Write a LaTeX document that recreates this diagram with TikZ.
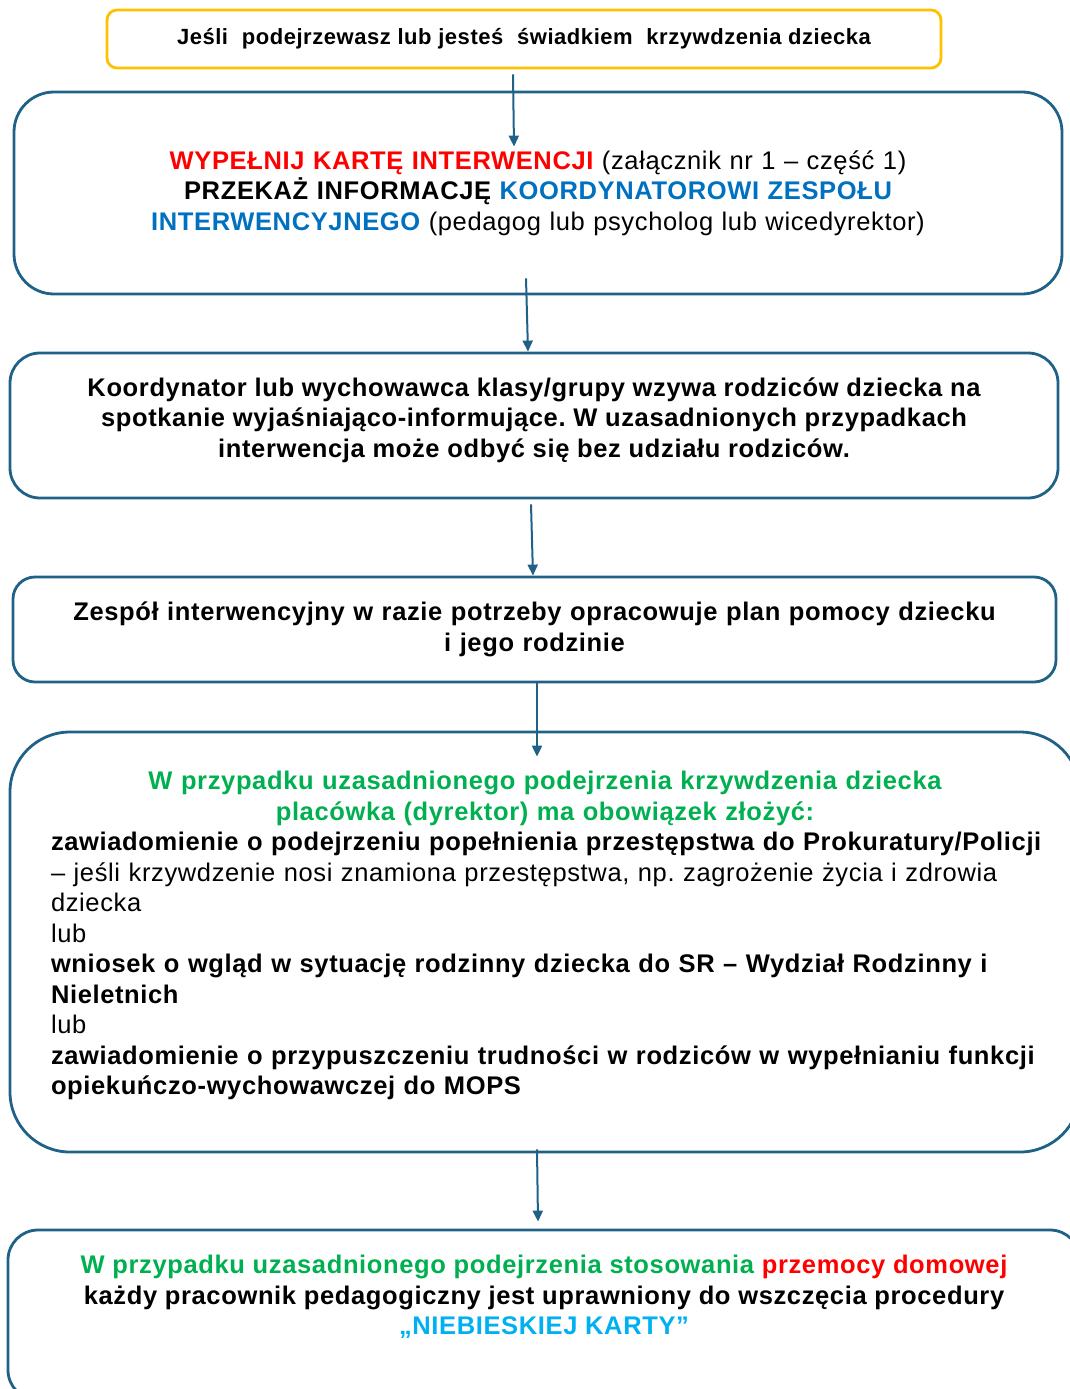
\documentclass[tikz,border=0pt]{standalone}
\usepackage{fontspec}
\setmainfont{Liberation Sans}[LetterSpace=2.5]
\usetikzlibrary{arrows.meta}

\definecolor{frameblue}{RGB}{31,97,135}
\definecolor{frameyellow}{RGB}{255,192,0}
\definecolor{kartared}{RGB}{255,0,0}
\definecolor{zespolblue}{RGB}{0,112,192}
\definecolor{podejrzgreen}{RGB}{0,176,80}
\definecolor{niebieska}{RGB}{0,176,240}
\frenchspacing

\begin{document}
\begin{tikzpicture}[x=1pt, y=-1pt,
    stepbox/.style={draw=frameblue, line width=2.8pt, inner sep=0pt,
      font=\fontsize{25.5}{30.5}\selectfont\bfseries},
    steptext/.style={inner sep=0pt, font=\fontsize{25.5}{30.5}\selectfont\bfseries},
    arr/.style={draw=frameblue, line width=2pt,
      -{Triangle[width=10pt, length=11pt]}}]
  \useasboundingbox (0, 0) rectangle (1070, 1389);

  % start
  \node (b1) at (524, 39) [draw=frameyellow, line width=2.8pt, rounded corners=10pt,
    minimum width=834pt, minimum height=58pt, inner sep=0pt,
    font=\fontsize{22}{24}\selectfont\bfseries]
    {Jeśli\hspace{7pt} podejrzewasz lub jesteś\hspace{7pt} świadkiem\hspace{7pt} krzywdzenia dziecka};

  \node (b2) at (538, 193) [stepbox, rounded corners=40pt,
    minimum width=1048pt, minimum height=202pt, text width=1040pt, align=center]
    {{\color{kartared}WYPEŁNIJ KARTĘ INTERWENCJI} {\mdseries(załącznik nr 1 – część 1)}\\
     PRZEKAŻ INFORMACJĘ {\color{zespolblue}KOORDYNATOROWI ZESPOŁU}\\
     {\color{zespolblue}INTERWENCYJNEGO} {\mdseries(pedagog lub psycholog lub wicedyrektor)}};

  \node (b3) at (534, 425.5) [stepbox, rounded corners=30pt,
    minimum width=1048pt, minimum height=145pt] {};
  \node (t3) at (534, 420) [steptext, align=center]
    {Koordynator lub wychowawca klasy/grupy wzywa rodziców dziecka na\\
     spotkanie wyjaśniająco-informujące. W uzasadnionych przypadkach\\
     interwencja może odbyć się bez udziału rodziców.};

  \node (b4) at (534.5, 629.5) [stepbox, rounded corners=22pt,
    minimum width=1043pt, minimum height=105pt, text width=1040pt, align=center]
    {Zespół interwencyjny w razie potrzeby opracowuje plan pomocy dziecku\\
     i jego rodzinie};

  % obowiazek dyrektora
  \node (b5) at (545, 942) [stepbox, rounded corners=60pt,
    minimum width=1070pt, minimum height=420pt] {};
  \node (t5) at (545, 771) [steptext, anchor=north, text width=988pt, align=left]
    {{\centering\color{podejrzgreen}W przypadku uzasadnionego podejrzenia krzywdzenia dziecka\\
      placówka (dyrektor) ma obowiązek złożyć:\par}
     \mbox{zawiadomienie o podejrzeniu popełnienia przestępstwa do Prokuratury/Policji}\\
     {\mdseries \mbox{– jeśli krzywdzenie nosi znamiona przestępstwa, np. zagrożenie życia i zdrowia}\\
     dziecka\\
     lub}\\
     \mbox{wniosek o wgląd w sytuację rodzinny dziecka do SR – Wydział Rodzinny i}\\
     Nieletnich\\
     {\mdseries lub}\\
     \mbox{zawiadomienie o przypuszczeniu trudności w rodziców w wypełnianiu funkcji}\\
     opiekuńczo-wychowawczej do MOPS};

  % niebieska karta
  \node (b6) at (544, 1315) [stepbox, rounded corners=30pt,
    minimum width=1072pt, minimum height=170pt] {};
  \node (t6) at (544, 1297) [steptext, align=center]
    {{\color{podejrzgreen}W przypadku uzasadnionego podejrzenia stosowania}
     {\color{kartared}przemocy domowej}\\
     każdy pracownik pedagogiczny jest uprawniony do wszczęcia procedury\\
     {\color{niebieska}„NIEBIESKIEJ KARTY”}};

  \draw [arr] ([xshift=-11pt, yshift=-5pt]b1.south) -- ([xshift=-24pt, yshift=-56pt]b2.north);
  \draw [arr] ([xshift=-12pt, yshift=17pt]b2.south) -- ([xshift=-6pt]b3.north);
  \draw [arr] ([xshift=-3pt, yshift=-5pt]b3.south) -- ([xshift=-1.5pt]b4.north);
  \draw [arr] ([xshift=2.5pt]b4.south) -- ([xshift=-8pt, yshift=-26pt]b5.north);
  \draw [arr] ([xshift=-8pt, yshift=4pt]b5.south) -- ([xshift=-6pt, yshift=7pt]b6.north);
\end{tikzpicture}
\end{document}
